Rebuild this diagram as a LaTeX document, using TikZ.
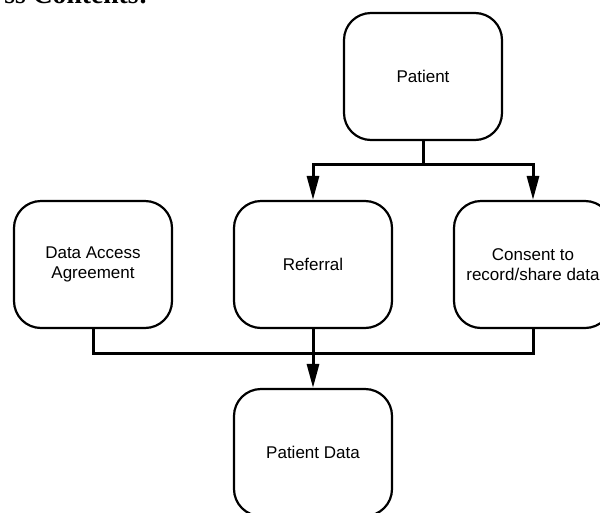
\documentclass[tikz,border=0pt]{standalone}
\usepackage{fontspec}
\setmainfont{Liberation Sans}
\newfontfamily\titleserif{Liberation Serif}
\usetikzlibrary{arrows.meta,calc}
\begin{document}
\begin{tikzpicture}[x=1pt,y=1pt,
  box/.style={draw,line width=2.2pt,rounded corners=27pt,minimum width=158pt,minimum height=127pt,align=center,font=\fontsize{17}{20}\selectfont,inner sep=0pt},
  conn/.style={line width=3pt},
  arr/.style={conn,-{Triangle[width=12pt,length=24pt]}}]
\useasboundingbox (0,0) rectangle (600,-512);
\clip (0,0) rectangle (600,-512);
\node[anchor=base east,inner sep=0pt,font=\titleserif\bfseries\fontsize{27.6}{30}\selectfont] (title) at (148,-3) {ss Contents:};
\node[box] (patient) at (423,-76.5) {Patient};
\node[box] (daa) at (93,-264.5) {Data Access\\Agreement};
\node[box] (ref) at (313,-264.5) {Referral};
\node[box] (cons) at (533,-264.5) {Consent to\\record/share data};
\node[box] (pdata) at (313,-452.5) {Patient Data};
\draw[conn] (patient.south) -- ++(0,-23) coordinate (j1);
\draw[arr] (j1) -| (ref.north);
\draw[arr] (j1) -| (cons.north);
\coordinate (j2) at ($(ref.south)+(0,-24)$);
\draw[conn] (daa.south) |- (j2) -| (cons.south);
\draw[arr] (ref.south) -- (pdata.north);
\end{tikzpicture}
\end{document}
